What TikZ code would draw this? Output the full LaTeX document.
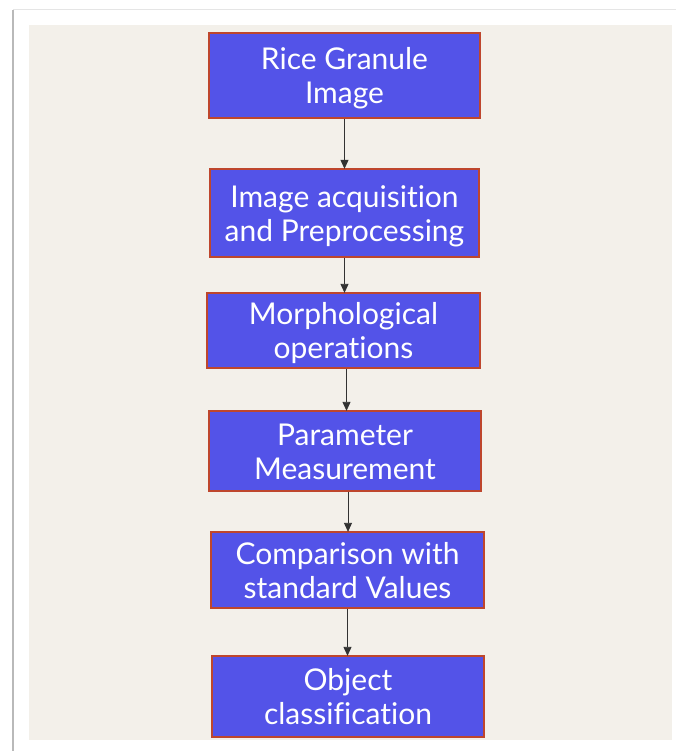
\documentclass[tikz,border=0pt]{standalone}
\usepackage{fontspec}
\setmainfont{Lato}[Ligatures=NoCommon]
\usetikzlibrary{arrows.meta}
\definecolor{boxfill}{RGB}{83,83,232}
\definecolor{boxedge}{RGB}{190,70,45}
\definecolor{beige}{RGB}{243,240,234}
\definecolor{linegray}{RGB}{50,50,50}
\tikzset{
  stage/.style={draw=boxedge, line width=1.3pt, fill=boxfill, text=white,
    align=center, inner sep=0pt, text height=58pt, text depth=2pt,
    font=\fontsize{30}{34}\selectfont},
  flow/.style={draw=linegray, line width=0.8pt, -{Triangle[width=8pt,length=9pt]}, shorten >=-0.5pt}
}
\begin{document}
\begin{tikzpicture}[x=1pt,y=-1pt]
\useasboundingbox (0,0) rectangle (676,751);
\fill[white] (0,0) rectangle (676,751);
% frame lines
\draw[gray!20, line width=1pt] (13,10) -- (676,10);
\draw[gray!55, line width=2pt] (13,10) -- (13,751);
\fill[beige] (29,25) rectangle (672,740);
% stages
\node[stage, minimum width=271pt, minimum height=85pt] (s1) at (344.5,75.5) {Rice Granule\\Image};
\node[stage, minimum width=269pt, minimum height=88pt] (s2) at (344.5,213) {Image acquisition\\and Preprocessing};
\node[stage, minimum width=273pt, minimum height=75pt] (s3) at (343.5,330.5) {Morphological\\operations};
\node[stage, minimum width=272pt, minimum height=80pt] (s4) at (345,451) {Parameter\\Measurement};
\node[stage, minimum width=273pt, minimum height=76pt] (s5) at (347.5,570) {Comparison with\\standard Values};
\node[stage, minimum width=272pt, minimum height=81pt] (s6) at (348,696.5) {Object\\classification};
% connectors
\draw[flow] (s1.south) -- (s1.south |- s2.north);
\draw[flow] (s2.south) -- (s2.south |- s3.north);
\draw[flow] ([xshift=3pt]s3.south) -- ([xshift=3pt]s3.south |- s4.north);
\draw[flow] ([xshift=3pt]s4.south) -- ([xshift=3pt]s4.south |- s5.north);
\draw[flow] (s5.south) -- (s5.south |- s6.north);
\end{tikzpicture}
\end{document}
